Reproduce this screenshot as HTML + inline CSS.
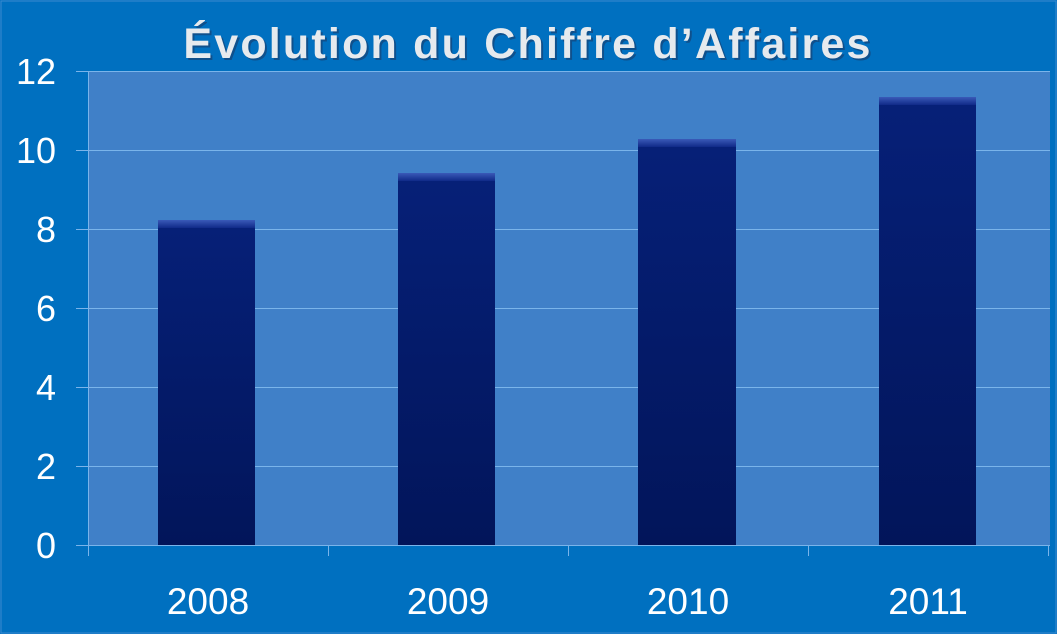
<!DOCTYPE html>
<html><head><meta charset="utf-8"><style>
html,body{margin:0;padding:0;background:#0070c0;}
svg{display:block}
</style></head><body>
<svg width="1057" height="634" xmlns="http://www.w3.org/2000/svg" font-family="Liberation Sans, sans-serif">
<defs>
<linearGradient id="bar" x1="0" y1="0" x2="0" y2="1">
<stop offset="0" stop-color="#062078"/><stop offset="1" stop-color="#02155a"/>
</linearGradient>
<linearGradient id="cap" x1="0" y1="0" x2="0" y2="1">
<stop offset="0" stop-color="#3a5ab8"/><stop offset="1" stop-color="#102a88"/>
</linearGradient>
</defs>
<rect width="1057" height="634" fill="#0070c0"/>
<rect x="1" y="1" width="1055" height="632" fill="none" stroke="#3b8ad0" stroke-width="1"/>
<text x="530" y="60" text-anchor="middle" font-size="43" font-weight="bold" fill="#1a3c6a" opacity="0.6" letter-spacing="2.2">Évolution du Chiffre d’Affaires</text>
<text x="528" y="58" text-anchor="middle" font-size="43" font-weight="bold" fill="#e6eaee" letter-spacing="2.2">Évolution du Chiffre d’Affaires</text>
<rect x="88" y="71" width="962" height="474" fill="#4080c8"/>
<g stroke="#7ab4ea" stroke-width="1">
<line x1="76" y1="71.5" x2="1050" y2="71.5"/>
<line x1="76" y1="150.5" x2="1050" y2="150.5"/>
<line x1="76" y1="229.5" x2="1050" y2="229.5"/>
<line x1="76" y1="308.5" x2="1050" y2="308.5"/>
<line x1="76" y1="387.5" x2="1050" y2="387.5"/>
<line x1="76" y1="466.5" x2="1050" y2="466.5"/>
<line x1="76" y1="545.5" x2="1050" y2="545.5"/>
<line x1="88.5" y1="71" x2="88.5" y2="556"/>
<line x1="328.5" y1="545" x2="328.5" y2="556"/>
<line x1="568.5" y1="545" x2="568.5" y2="556"/>
<line x1="808.5" y1="545" x2="808.5" y2="556"/>
<line x1="1048.5" y1="545" x2="1048.5" y2="556"/>
</g>
<g>
<rect x="158" y="220" width="97" height="325" fill="url(#bar)"/><rect x="158" y="220" width="97" height="8" fill="url(#cap)"/>
<rect x="398" y="173" width="97" height="372" fill="url(#bar)"/><rect x="398" y="173" width="97" height="8" fill="url(#cap)"/>
<rect x="638" y="139" width="98" height="406" fill="url(#bar)"/><rect x="638" y="139" width="98" height="8" fill="url(#cap)"/>
<rect x="879" y="97" width="97" height="448" fill="url(#bar)"/><rect x="879" y="97" width="97" height="8" fill="url(#cap)"/>
</g>
<g fill="#ffffff" font-size="36" text-anchor="end">
<text x="56" y="84">12</text>
<text x="56" y="163">10</text>
<text x="56" y="242">8</text>
<text x="56" y="321">6</text>
<text x="56" y="400">4</text>
<text x="56" y="479">2</text>
<text x="56" y="558">0</text>
</g>
<g fill="#ffffff" font-size="37" text-anchor="middle">
<text x="208" y="614">2008</text>
<text x="448" y="614">2009</text>
<text x="688" y="614">2010</text>
<text x="928" y="614">2011</text>
</g>
</svg>
</body></html>
